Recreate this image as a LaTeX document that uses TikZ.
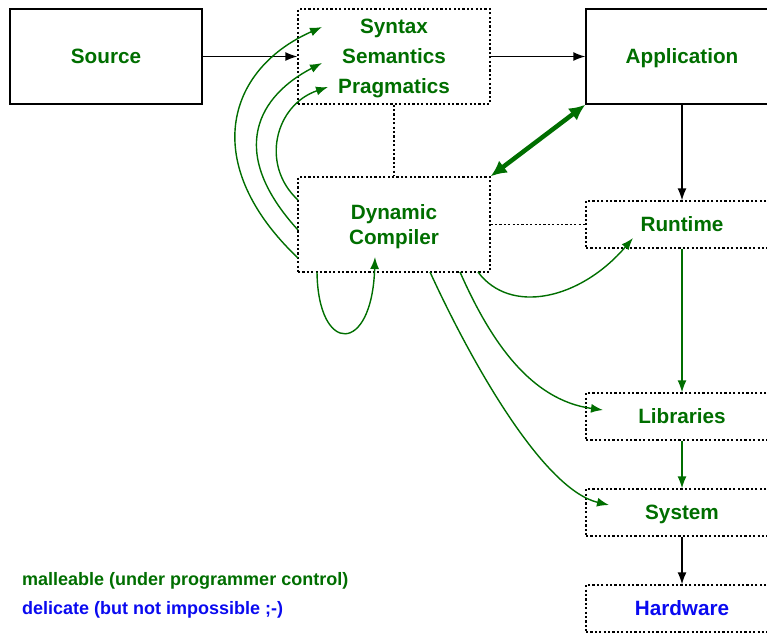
\documentclass[tikz,border=0pt]{standalone}
\usepackage{fontspec}
\setmainfont{Liberation Sans}
\usetikzlibrary{arrows.meta}
\definecolor{mgreen}{RGB}{0,110,0}
\definecolor{dblue}{RGB}{10,10,240}
\newcommand{\toprl}{\rule{0pt}{19pt}}
\newcommand{\botrl}{\rule[-4.2pt]{0pt}{4.2pt}}
\begin{document}
\begin{tikzpicture}[x=1pt,y=-1pt,
  lbl/.style={font=\fontsize{20.7}{25}\selectfont\bfseries, text=mgreen, align=center, inner sep=0pt},
  solidbox/.style={lbl, draw=black, line width=1.4pt, minimum width=192pt, minimum height=95pt},
  dotbox/.style={lbl, draw=black, line width=1.3pt, dash pattern=on 2.2pt off 2.2pt, minimum width=192pt, minimum height=95pt},
  smallbox/.style={dotbox, minimum height=47pt},
  oneline/.style={text height=19pt, text depth=4.2pt},
  blk/.style={draw=black, line width=1.4pt, -{Latex[length=12pt,width=9pt]}},
  grn/.style={draw=mgreen, line width=1.4pt, -{Latex[length=12pt,width=9pt]}},
  dotline/.style={draw=black, line width=1.3pt, dash pattern=on 2.2pt off 2.2pt},
  thickgrn/.style={draw=mgreen, line width=4.5pt, {Latex[length=16pt,width=15pt]}-{Latex[length=16pt,width=15pt]}},
  legend/.style={font=\fontsize{18}{20}\selectfont\bfseries, anchor=base west, inner sep=0pt}
]
\useasboundingbox (0,0) rectangle (767,633);
\clip (0,0) rectangle (767,633);

\node[solidbox, oneline] (src) at (106,56.5) {Source};
\node[dotbox, font=\fontsize{20.7}{30}\selectfont\bfseries] (syn) at (394,56.5) {\toprl Syntax\\Semantics\\Pragmatics\botrl};
\node[solidbox, oneline] (app) at (682,56.5) {Application};
\node[dotbox] (dyn) at (394,224.5) {\toprl Dynamic\\Compiler\botrl};
\node[smallbox, oneline] (rt) at (682,224.5) {Runtime};
\node[smallbox, oneline] (lib) at (682,416.5) {Libraries};
\node[smallbox, oneline] (sys) at (682,512.5) {System};
\node[smallbox, oneline, text=dblue] (hw) at (682,608.5) {Hardware};

\node[legend, text=mgreen] (lg1) at (22,585.5) {malleable (under programmer control)};
\node[legend, text=dblue] (lg2) at (22,614.5) {delicate (but not impossible ;-)};

\draw[blk] (src) -- (syn);
\draw[blk] (syn) -- (app);
\draw[blk] (app) -- (rt);
\draw[grn] (rt) -- (lib);
\draw[grn] (lib) -- (sys);
\draw[blk] (sys) -- (hw);
\draw[dotline] (syn) -- (dyn);
\draw[dotline] (dyn) -- (rt);
\draw[thickgrn] (app.south west) -- (dyn.north east);

% targets in the Syntax box
\coordinate (t1) at (322,27);
\coordinate (t2) at (322,63);
\coordinate (t3) at (328,87);
% starts on the Dynamic Compiler box
\coordinate (d1) at (298,258);
\coordinate (d2) at (298,230);
\coordinate (d3) at (298,200);
\coordinate (lp1) at (317,272);
\coordinate (lp2) at (375,257);
\coordinate (r1) at (478,272);
\coordinate (r2) at (633,238);
\coordinate (l1) at (460,272);
\coordinate (l2) at (603,410);
\coordinate (y1) at (430,272);
\coordinate (y2) at (609,505);

\draw[grn] (d1) .. controls (200,165) and (225,70) .. (t1);
\draw[grn] (d2) .. controls (225,150) and (260,95) .. (t2);
\draw[grn] (d3) .. controls (260,165) and (275,105) .. (t3);
\draw[grn] (lp1) .. controls (318,355) and (372,355) .. (lp2);
\draw[grn] (r1) .. controls (510,315) and (580,300) .. (r2);
\draw[grn] (l1) .. controls (490,340) and (530,400) .. (l2);
\draw[grn] (y1) .. controls (475,370) and (545,490) .. (y2);
\end{tikzpicture}
\end{document}
